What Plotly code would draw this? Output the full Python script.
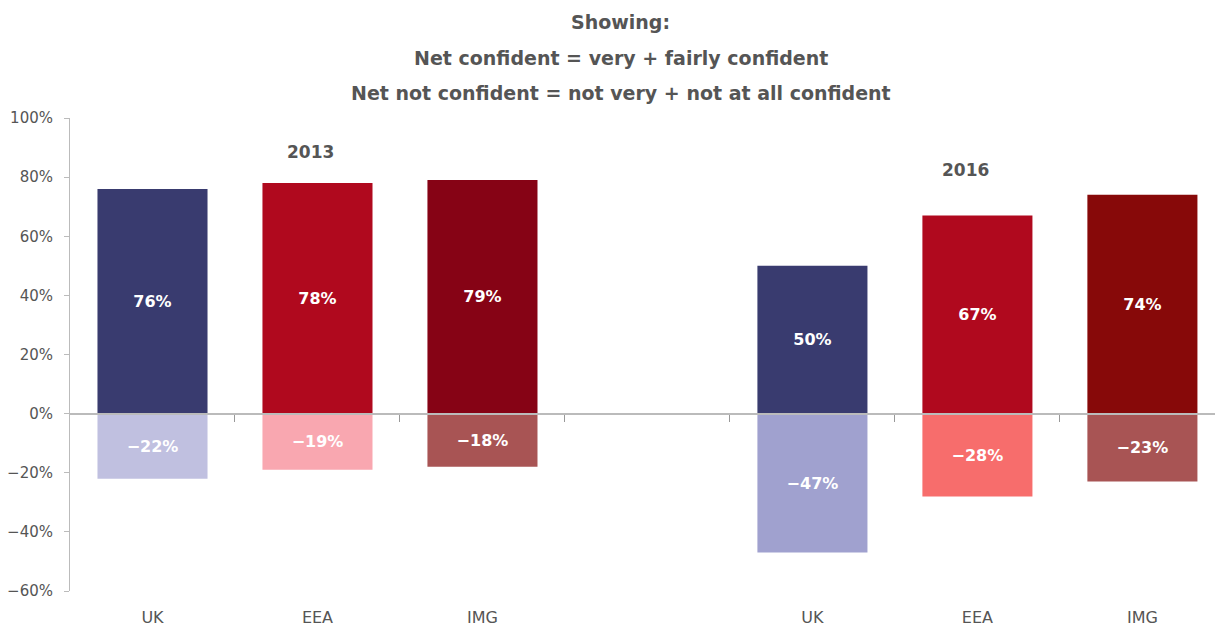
import plotly.graph_objects as go

# Survey results: net confident vs net not confident, by group and year
years = ["2013", "2013", "2013", "2016", "2016", "2016"]
groups = ["UK", "EEA", "IMG", "UK", "EEA", "IMG"]
net_confident = [76, 78, 79, 50, 67, 74]
net_not_confident = [-22, -19, -18, -47, -28, -23]

# slot positions: a blank slot separates the two years
slots = [0, 1, 2, 4, 5, 6]

confident_colors = ["#393b6f", "#b0091e", "#860315", "#393b6f", "#b0091e", "#870909"]
not_confident_colors = ["#c0c0e0", "#f9a7b0", "#a85454", "#a0a1cf", "#f76d6c", "#a85454"]

year_labels = ["2013", "2016"]
year_label_x = [0.96, 4.93]
year_label_y = [88.5, 82.4]

y_ticks = [-60, -40, -20, 0, 20, 40, 60, 80, 100]
y_range = [-60, 100]
x_range = [-0.5, 6.44]
boundaries = [0.5, 1.5, 2.5, 3.5, 4.5, 5.5]

FONT = "DejaVu Sans"
GREY = "#555555"

fig = go.Figure()
fig.add_trace(go.Bar(
    x=slots, y=net_confident, name="Net confident",
    marker=dict(color=confident_colors, line=dict(width=0)),
    text=[f"{v}%" for v in net_confident],
    textposition="inside", insidetextanchor="middle",
    textfont=dict(family=FONT, size=16, color="white", weight="bold"),
    hovertemplate="%{customdata}: %{y}%<extra>Net confident</extra>",
    customdata=[f"{g} {y}" for g, y in zip(groups, years)],
))
fig.add_trace(go.Bar(
    x=slots, y=net_not_confident, name="Net not confident",
    marker=dict(color=not_confident_colors, line=dict(width=0)),
    text=[f"\u2212{abs(v)}%" for v in net_not_confident],
    textposition="inside", insidetextanchor="middle",
    textfont=dict(family=FONT, size=16, color="white", weight="bold"),
    hovertemplate="%{customdata}: %{y}%<extra>Net not confident</extra>",
    customdata=[f"{g} {y}" for g, y in zip(groups, years)],
))
# helper trace so the zero-line axis (x2) is drawn
fig.add_trace(go.Scatter(
    x=[x_range[0]], y=[0], xaxis="x2", yaxis="y", mode="none",
    hoverinfo="skip", showlegend=False,
))

title_lines = [
    "Showing:",
    "Net confident = very + fairly confident",
    "Net not confident = not very + not at all confident",
]
title_y = [1.203, 1.127, 1.053]
annotations = []
for line, yy in zip(title_lines, title_y):
    annotations.append(dict(
        text=line, xref="paper", yref="paper", x=0.481, y=yy,
        xanchor="center", yanchor="middle", showarrow=False,
        font=dict(family=FONT, size=19, color=GREY, weight="bold"),
    ))
for lab, xx, yy in zip(year_labels, year_label_x, year_label_y):
    annotations.append(dict(
        text=lab, x=xx, y=yy, xref="x", yref="y",
        xanchor="center", yanchor="middle", showarrow=False,
        font=dict(family=FONT, size=17, color=GREY, weight="bold"),
    ))

zero_pos = (0 - y_range[0]) / (y_range[1] - y_range[0])

fig.update_layout(
    width=1215, height=628,
    margin=dict(l=70, r=0, t=118, b=37, autoexpand=False),
    paper_bgcolor="white", plot_bgcolor="white",
    barmode="relative", bargap=0.333,
    showlegend=False,
    font=dict(family=FONT, color=GREY),
    annotations=annotations,
    xaxis=dict(
        range=x_range, tickmode="array", tickvals=slots, ticktext=groups,
        showline=False, showgrid=False, zeroline=False, ticks="",
        ticklabelstandoff=15, automargin=False,
        tickfont=dict(family=FONT, size=16, color=GREY),
        fixedrange=True,
    ),
    xaxis2=dict(
        overlaying="x", anchor="free", position=zero_pos, side="bottom",
        range=x_range, tickmode="array", tickvals=boundaries,
        showticklabels=False, ticks="outside", ticklen=7, tickwidth=1,
        tickcolor="#999999", showline=True, linecolor="#bbbbbb", linewidth=2,
        showgrid=False, zeroline=False, layer="above traces", fixedrange=True,
        automargin=False,
    ),
    yaxis=dict(
        range=y_range, tickmode="array", tickvals=y_ticks,
        ticktext=[f"\u2212{abs(v)}%" if v < 0 else f"{v}%" for v in y_ticks],
        showline=True, linecolor="#bbbbbb", linewidth=1,
        ticks="outside", ticklen=5, tickcolor="#bbbbbb",
        showgrid=False, zeroline=False, ticklabelstandoff=8, automargin=False,
        tickfont=dict(family=FONT, size=15, color=GREY),
        fixedrange=True,
    ),
)

fig.write_html("out.html")
